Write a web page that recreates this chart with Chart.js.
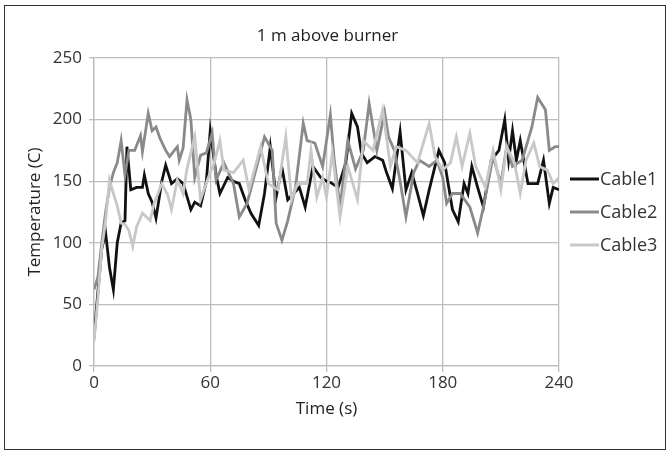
<!DOCTYPE html>
<html>
<head>
<meta charset="utf-8">
<script src="https://cdn.jsdelivr.net/npm/chart.js@4"></script>
<style>
  html, body { margin: 0; padding: 0; background: #fff; }
  #wrap { position: relative; width: 669px; height: 455px; }
  #frame { position: absolute; left: 4px; top: 5px; width: 660px; height: 443px; border: 1px solid #333; pointer-events: none; }
</style>
</head>
<body>
<div id="wrap">
  <canvas id="chart" width="669" height="455"></canvas>
  <div id="frame"></div>
</div>
<script>
// readings (time in s, temperature in C)
const cable1Time = [0,2,4,6,8,10,12,14,16,17,19,22,25,26,28,30,32,35,37,40,43,46,50,52,55,58,60,63,65,69,72,75,78,81,85,88,91,94,97,100,103,106,109,113,117,120,122,126,130,133,136,138,141,145,149,151,154,158,161,164,167,170,173,178,181,185,188,191,193,195,198,201,205,209,212,214,216,218,220,224,229,232,235,237,240];
const cable1Temp = [23,60,95,108,80,62,100,116,118,178,143,145,145,155,140,133,120,150,163,148,152,148,127,133,130,150,191,155,140,153,150,148,135,124,114,140,178,137,161,135,140,145,129,162,153,150,149,145,165,205,194,173,165,170,167,157,144,190,143,157,140,122,143,175,165,127,117,148,140,162,145,129,167,175,200,167,191,167,183,148,148,167,132,145,143];

const cable2Time = [0,2,4,6,8,10,12,14,16,18,21,24,25,28,30,32,34,37,39,43,44,46,48,50,52,55,58,61,63,67,72,75,79,84,88,92,94,97,100,104,108,110,114,118,122,124,127,131,135,139,142,146,150,152,155,158,161,165,168,173,177,180,182,185,189,194,198,201,206,210,213,216,221,226,229,233,235,238,240];
const cable2Temp = [62,72,100,125,145,157,165,183,155,175,175,187,174,205,191,194,185,175,170,178,167,177,216,200,153,171,173,189,151,165,148,121,132,162,186,175,116,102,118,145,197,183,181,162,204,167,129,183,160,175,213,175,206,186,175,150,121,157,167,162,167,153,132,140,140,129,108,129,170,148,178,162,167,194,218,208,175,178,178];

const cable3Time = [0,2,4,6,8,10,12,14,16,18,20,22,25,29,31,35,38,40,43,46,48,52,55,59,62,65,67,72,77,80,86,90,95,99,102,105,110,112,115,118,120,123,127,131,136,139,144,149,153,156,161,167,173,176,180,184,187,190,194,197,202,206,210,213,217,220,223,227,230,234,237,240];
const cable3Temp = [20,55,95,118,151,140,130,116,115,110,97,113,124,118,132,148,139,127,151,140,160,186,135,153,165,183,159,157,167,143,178,148,143,186,135,148,148,175,137,153,137,173,121,162,135,183,175,208,162,178,175,165,197,170,159,165,186,162,189,162,145,175,143,178,165,140,167,181,162,159,148,153];

const seriesNames = ['Cable1', 'Cable2', 'Cable3'];
const seriesColors = ['#111111', '#8a8a8a', '#c8c8c8'];
const xTicks = [0, 60, 120, 180, 240];
const yTicks = [0, 50, 100, 150, 200, 250];

const FONT = '"Open Sans", "DejaVu Sans", sans-serif';

function pairs(t, v) {
  return t.map((x, i) => ({ x: x, y: v[i] }));
}

const times = [cable1Time, cable2Time, cable3Time];
const temps = [cable1Temp, cable2Temp, cable3Temp];

// legend drawn beside the plot like the spreadsheet one
const sideLegend = {
  id: 'sideLegend',
  afterDraw(chart) {
    const ctx = chart.ctx;
    ctx.save();
    ctx.font = '18px ' + FONT;
    ctx.textBaseline = 'middle';
    ctx.textAlign = 'left';
    chart.data.datasets.forEach((ds, i) => {
      const y = 179 + i * 33;
      ctx.strokeStyle = ds.borderColor;
      ctx.lineWidth = 3;
      ctx.beginPath();
      ctx.moveTo(570, y);
      ctx.lineTo(599, y);
      ctx.stroke();
      ctx.fillStyle = '#333';
      ctx.fillText(ds.label, 600, y + 1);
    });
    ctx.restore();
  }
};

new Chart(document.getElementById('chart'), {
  type: 'line',
  data: {
    datasets: seriesNames.map((name, i) => ({
      label: name,
      data: pairs(times[i], temps[i]),
      borderColor: seriesColors[i],
      backgroundColor: seriesColors[i],
      borderWidth: 2.8,
      pointRadius: 0,
      tension: 0,
      order: 3 - i
    }))
  },
  options: {
    responsive: false,
    animation: false,
    layout: { padding: { left: 0, right: 14, top: 0, bottom: 0 } },
    plugins: {
      legend: { display: false },
      tooltip: { enabled: false },
      title: {
        display: true,
        text: '1 m above burner',
        color: '#222',
        font: { family: FONT, size: 17, weight: 'normal' },
        padding: { top: 26, bottom: 11.6 }
      }
    },
    scales: {
      x: {
        type: 'linear',
        min: 0,
        max: 240,
        afterBuildTicks(scale) { scale.ticks = xTicks.map(v => ({ value: v })); },
        afterFit(scale) { scale.height = 89; },
        grid: { color: '#bdbdbd', lineWidth: 1.3, tickLength: 6 },
        border: { color: '#bdbdbd', width: 1.3 },
        ticks: { color: '#333', font: { family: FONT, size: 17 }, padding: 1, maxRotation: 0 },
        title: {
          display: true,
          text: 'Time (s)',
          color: '#222',
          font: { family: FONT, size: 17 },
          padding: { top: 0, bottom: 36 }
        }
      },
      y: {
        min: 0,
        max: 250,
        afterBuildTicks(scale) { scale.ticks = yTicks.map(v => ({ value: v })); },
        afterFit(scale) { scale.width = 94; },
        grid: { color: '#bdbdbd', lineWidth: 1.3, tickLength: 5 },
        border: { color: '#bdbdbd', width: 1.3 },
        ticks: { color: '#333', font: { family: FONT, size: 17 }, padding: 7 },
        title: {
          display: true,
          text: 'Temperature (C)',
          color: '#222',
          font: { family: FONT, size: 17 },
          padding: { top: 25, bottom: 0 }
        }
      },
      // empty room on the right for the legend
      legendRoom: {
        type: 'linear',
        position: 'right',
        min: 0,
        max: 1,
        afterFit(scale) { scale.width = 96; },
        grid: { display: false },
        border: { display: false },
        ticks: { display: false }
      }
    }
  },
  plugins: [sideLegend]
});
</script>
</body>
</html>
